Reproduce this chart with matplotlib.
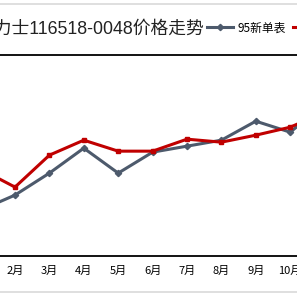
import matplotlib.pyplot as plt
from matplotlib.lines import Line2D

plt.rcParams['font.family'] = ['Noto Sans CJK SC', 'DejaVu Sans']

# chart data (prices in yuan)
months = ['1月', '2月', '3月', '4月', '5月', '6月', '7月', '8月', '9月', '10月', '11月', '12月']
used_95 = [64600, 66100, 68300, 70800, 68300, 70400, 71000, 71600, 73500, 72400, 75200]
new_watch = [68700, 66900, 70100, 71600, 70500, 70500, 71700, 71400, 72100, 72900, 74400]
series_names = ['95新单表', '全新单表']

W = 297.0
fig = plt.figure(figsize=(2.97, 2.97), dpi=100)

# chart area borders (light gray)
for py in (4.3, 292):
    fig.add_artist(Line2D([0, 1], [1 - py / W, 1 - py / W], color='#d9d9d9', lw=1.2))
# top black rule
fig.add_artist(Line2D([0, 1], [1 - 55.3 / W, 1 - 55.3 / W], color='black', lw=1.3))

# the plot area is wider than the crop, so the axes run past the figure edges
step = 34.4
x_first = 15 - step  # pixel x of 1月
left_px = x_first - step / 2
ax = fig.add_axes([left_px / W, (W - 256) / W, 12 * step / W, (256 - 55.3) / W])

x = list(range(1, len(used_95) + 1))
ax.plot(x, used_95, color='#4d5a6c', lw=2.2, marker='D', ms=3.2, label=series_names[0])
ax.plot(x, new_watch, color='#c00000', lw=2.2, marker='s', ms=3.2, label=series_names[1])

ax.set_xlim(0.5, 12.5)
ax.set_ylim(60000, 80100)
ax.set_xticks(range(1, 13))
ax.set_xticklabels(months, fontsize=8)
ax.tick_params(axis='x', length=0, pad=7)
ax.set_yticks([])
for s in ('top', 'left', 'right'):
    ax.spines[s].set_visible(False)
ax.spines['bottom'].set_linewidth(1.3)

fig.text(204 / W, 1 - 29 / W, '劳力士116518-0048价格走势', ha='right', va='center',
         fontsize=12.8, family=['Liberation Sans', 'Noto Sans CJK SC', 'DejaVu Sans'],
         color='#222222')

fig.legend(loc='center left', bbox_to_anchor=(207 / W, 1 - 28 / W), ncol=2, frameon=False,
           fontsize=8.5, handlelength=2.2, handletextpad=0.4, columnspacing=0.6,
           borderpad=0, borderaxespad=0)

fig.savefig('out.png', dpi=100)
